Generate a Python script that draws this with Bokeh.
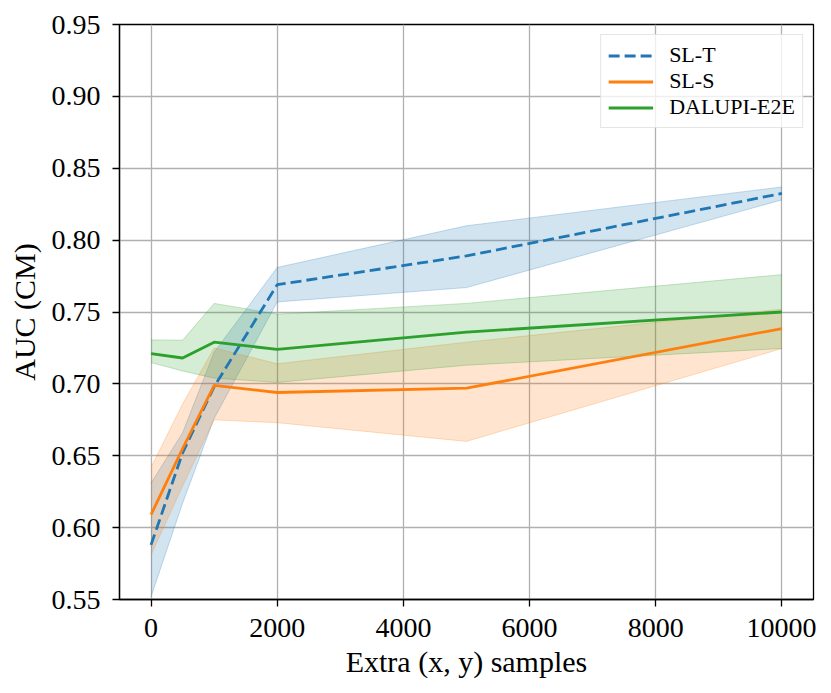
from bokeh.plotting import figure
from bokeh.models import FixedTicker, PrintfTickFormatter, Range1d
from bokeh.embed import file_html
from bokeh.resources import INLINE

# ---- data ----
x_samples = [0, 500, 1000, 2000, 5000, 10000]

slt_mean = [0.588, 0.652, 0.698, 0.769, 0.789, 0.8325]
slt_lo = [0.552, 0.617, 0.676, 0.757, 0.767, 0.828]
slt_hi = [0.631, 0.666, 0.722, 0.781, 0.810, 0.837]

sls_mean = [0.609, 0.655, 0.699, 0.694, 0.697, 0.7385]
sls_lo = [0.581, 0.629, 0.675, 0.673, 0.660, 0.7246]
sls_hi = [0.642, 0.686, 0.725, 0.714, 0.729, 0.752]

dal_mean = [0.721, 0.718, 0.729, 0.724, 0.736, 0.750]
dal_lo = [0.7148, 0.709, 0.704, 0.701, 0.713, 0.7246]
dal_hi = [0.7306, 0.7304, 0.756, 0.7485, 0.756, 0.776]

x_ticks = [0, 2000, 4000, 6000, 8000, 10000]
y_ticks = [0.55, 0.60, 0.65, 0.70, 0.75, 0.80, 0.85, 0.90, 0.95]

labels = ["SL-T", "SL-S", "DALUPI-E2E"]
colors = ["#1f77b4", "#ff7f0e", "#2ca02c"]
dashes = ["11 5", "solid", "solid"]

FONT = "Liberation Serif"

p = figure(
    output_backend="svg",
    toolbar_location=None,
    frame_width=694,
    frame_height=575,
    min_border_left=119,
    min_border_right=3,
    min_border_top=24,
    min_border_bottom=80,
    x_range=Range1d(-500, 10500),
    y_range=Range1d(0.55, 0.95),
)
p.background_fill_color = "white"
p.border_fill_color = "white"
p.outline_line_color = "black"
p.outline_line_width = 1.3

series = [
    (slt_mean, slt_lo, slt_hi),
    (sls_mean, sls_lo, sls_hi),
    (dal_mean, dal_lo, dal_hi),
]

for (m, lo, hi), c in zip(series, colors):
    p.varea(x=x_samples, y1=lo, y2=hi, fill_color=c, fill_alpha=0.2)
    p.line(x_samples, lo, line_color=c, line_alpha=0.25, line_width=1)
    p.line(x_samples, hi, line_color=c, line_alpha=0.25, line_width=1)

for (m, lo, hi), c, d, lab in zip(series, colors, dashes, labels):
    p.line(x_samples, m, line_color=c, line_width=2.8, line_dash=d, legend_label=lab)

# axes
p.xaxis.ticker = FixedTicker(ticks=x_ticks)
p.yaxis.ticker = FixedTicker(ticks=y_ticks)
p.xaxis.formatter = PrintfTickFormatter(format="%d")
p.yaxis.formatter = PrintfTickFormatter(format="%.2f")
p.xaxis.axis_label = "Extra (x, y) samples"
p.yaxis.axis_label = "AUC (CM)"
for ax in (p.xaxis, p.yaxis):
    ax.axis_line_color = "black"
    ax.axis_line_width = 1.3
    ax.major_tick_line_color = "black"
    ax.major_tick_line_width = 1.3
    ax.major_tick_in = 0
    ax.major_tick_out = 7
    ax.minor_tick_line_color = None
    ax.major_label_text_font = FONT
    ax.major_label_text_font_size = "28px"
    ax.major_label_text_color = "black"
    ax.axis_label_text_font = FONT
    ax.axis_label_text_font_size = "30px"
    ax.axis_label_text_font_style = "normal"
    ax.axis_label_text_color = "black"
p.xaxis.major_label_standoff = 12
p.yaxis.major_label_standoff = 12
p.xaxis.axis_label_standoff = 5
p.yaxis.axis_label_standoff = 8

p.grid.grid_line_color = "#b0b0b0"
p.grid.grid_line_width = 1.3

lg = p.legend[0]
lg.location = "top_right"
lg.margin = 10
lg.padding = 7
lg.spacing = 0
lg.glyph_width = 45
lg.glyph_height = 21
lg.label_height = 21
lg.label_standoff = 16
lg.label_text_font = FONT
lg.label_text_font_size = "22px"
lg.label_text_color = "black"
lg.border_line_color = "#cccccc"
lg.border_line_width = 1
lg.background_fill_alpha = 0.8

open("out.html", "w").write(file_html(p, INLINE))
